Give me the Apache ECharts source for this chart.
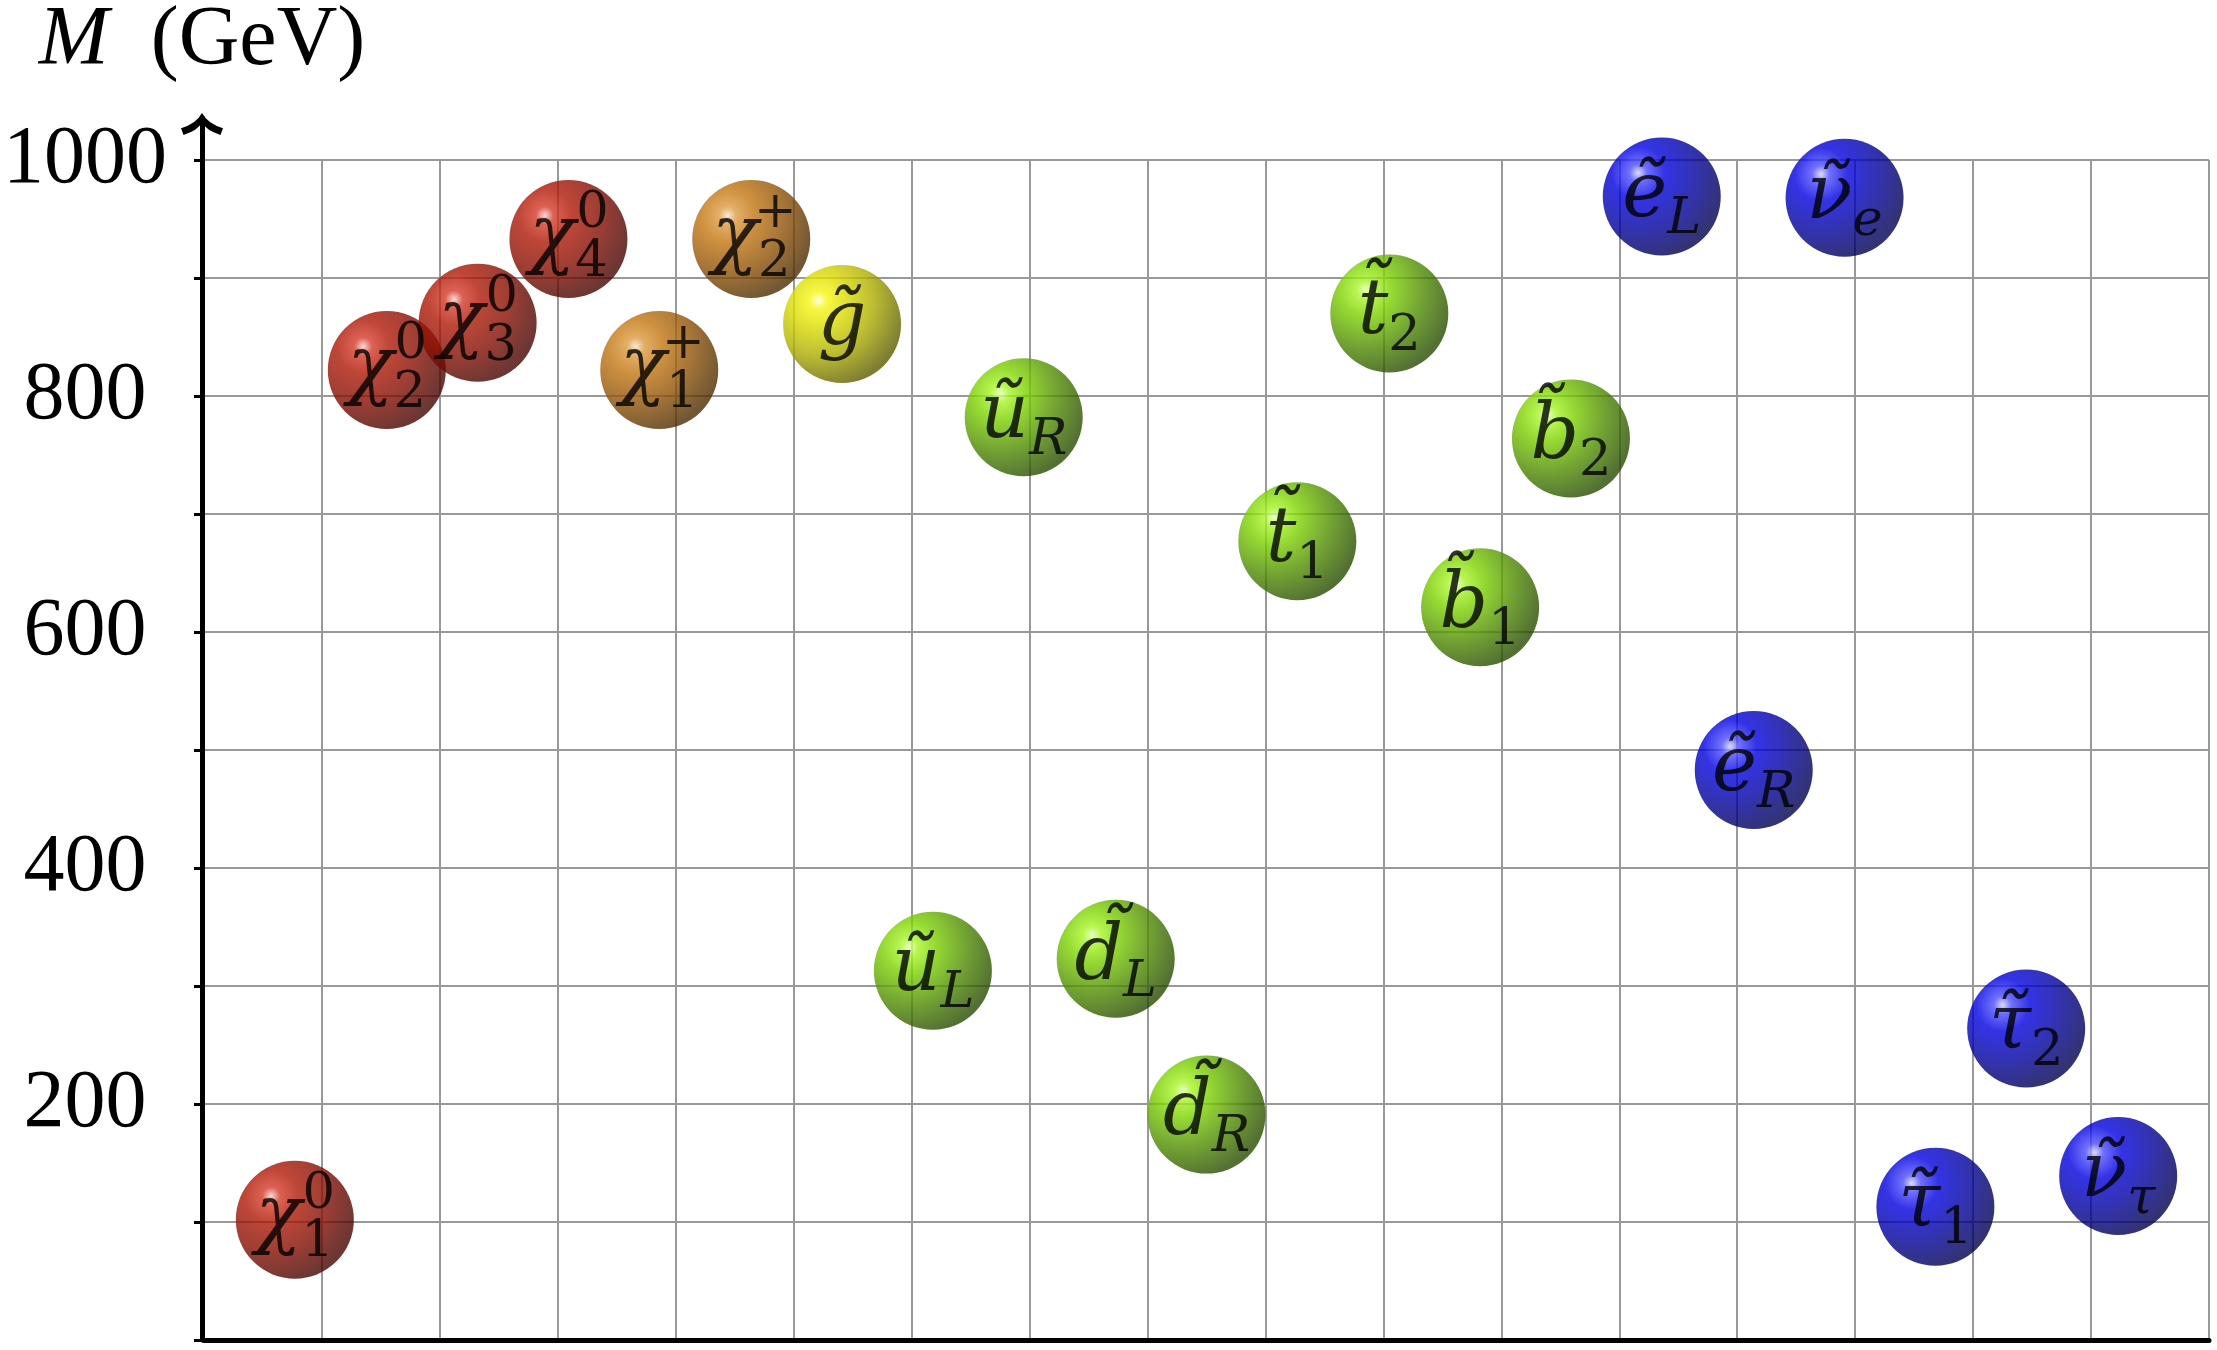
<!DOCTYPE html>
<html><head><meta charset="utf-8">
<script src="https://cdn.jsdelivr.net/npm/echarts@6/dist/echarts.min.js"></script>
<style>html,body{margin:0;padding:0;background:#fff}#c{width:2217px;height:1350px}</style>
</head><body><div id="c"></div>
<script>
// ---- data ----
const particleLetters = ['χ','χ','χ','χ','χ','χ','g\u0303','ũ','ũ','d\u0303','d\u0303','t\u0303','t\u0303','b\u0303','b\u0303','ẽ','ẽ','ν\u0303','τ\u0303','τ\u0303','ν\u0303'];
const particleSubscripts = ['1','2','3','4','1','2','','L','R','L','R','1','2','1','2','L','R','e','1','2','τ'];
const particleSuperscripts = ['0','0','0','0','+','+','','','','','','','','','','','','','','',''];
const particleGroups = ['neutralino','neutralino','neutralino','neutralino','chargino','chargino','gluino','squark','squark','squark','squark','squark','squark','squark','squark','slepton','slepton','slepton','slepton','slepton','slepton'];
const slotPositions = [0.77,1.55,2.32,3.09,3.86,4.64,5.41,6.18,6.95,7.73,8.5,9.27,10.05,10.82,11.59,12.36,13.14,13.91,14.68,15.45,16.23];
const massesGeV = [102,822,862,933,822,933,861,313,782,323,191,677,870,621,764,969,483,968,113,264,139];
const yTickLabels = [200,400,600,800,1000];

// ---- styles ----
const FONT = '"Liberation Serif","DejaVu Serif",serif';
const MFONT = '"DejaVu Serif",serif';
const ballPalette = {
  neutralino: ['#f4d0cc','#d43a28','#ae1806','#860e02','#460400'],
  chargino:   ['#f8e2c8','#dc9a40','#c27610','#925408','#4e2c00'],
  gluino:     ['#ffffd0','#f6f614','#dcdc00','#acac00','#5e5e00'],
  squark:     ['#e4ffb4','#a8f428','#7cd000','#529000','#284c00'],
  slepton:    ['#d4d4ff','#4c4cff','#0000e0','#0000a0','#000050']
};
function ballGradient(group){
  const c = ballPalette[group];
  return {type:'radial', x:0.3, y:0.3, r:0.75, colorStops:[
    {offset:0, color:c[0]},{offset:0.1, color:c[1]},{offset:0.3, color:c[2]},
    {offset:0.62, color:c[3]},{offset:1, color:c[4]}]};
}
const ballData = slotPositions.map((x,i)=>({value:[x, massesGeV[i]], itemStyle:{color:ballGradient(particleGroups[i])}}));
const supData = slotPositions.map((x,i)=>[x, massesGeV[i]]);

const chart = echarts.init(document.getElementById('c'), null, {renderer:'canvas'});
const gridLine = {show:true, lineStyle:{color:'#999999', width:2}};
chart.setOption({
  animation:false,
  backgroundColor:'#fff',
  grid:[
    {left:202, right:8, top:160, bottom:10},
    {left:202, right:8, top:118, bottom:10}
  ],
  xAxis:[
    {gridIndex:0, type:'value', min:0, max:17, interval:1, z:1,
     axisLine:{show:true, onZero:false, lineStyle:{color:'#000', width:5}},
     axisTick:{show:false}, axisLabel:{show:false}, splitLine:gridLine},
    {gridIndex:1, type:'value', min:0, max:1, show:false}
  ],
  yAxis:[
    {gridIndex:0, type:'value', min:0, max:1000, interval:100,
     axisLine:{show:false},
     axisTick:{show:true, length:10, lineStyle:{color:'#000', width:3}},
     axisLabel:{show:true, margin:119, align:'center', color:'#000', fontFamily:FONT, fontSize:82,
       formatter:v=> yTickLabels.includes(v) ? String(v) : ''},
     splitLine:gridLine},
    {gridIndex:1, type:'value', min:0, max:1, z:1,
     axisLine:{show:true, onZero:false, lineStyle:{color:'#000', width:5},
       symbol:['none','path://M50 0 Q36 26 0 36 L6 52 Q40 42 50 22 Q60 42 94 52 L100 36 Q64 26 50 0 Z'],
       symbolSize:[42,22], symbolOffset:[0,-6]},
     axisTick:{show:false}, axisLabel:{show:false}, splitLine:{show:false},
     name:'{i|M}  (GeV)', nameLocation:'end', nameGap:76,
     nameTextStyle:{align:'center', verticalAlign:'middle', color:'#000', fontFamily:FONT, fontSize:84,
       rich:{i:{fontStyle:'italic', fontFamily:FONT, fontSize:84, color:'#000'}}}}
  ],
  series:[
    {type:'scatter', xAxisIndex:0, yAxisIndex:0, symbol:'circle', symbolSize:118, silent:true,
     emphasis:{disabled:true}, data:ballData,
     label:{show:true, position:'inside', offset:[0,0], color:'#000',
       formatter:p=>{
         const i=p.dataIndex, sub=particleSubscripts[i];
         if(!sub) return '{m|'+particleLetters[i]+'}';
         const isItalic = /[A-Za-zτ]/.test(sub);
         return '{m|'+particleLetters[i]+'}{'+(isItalic?'si':'s')+'|'+sub+'}';
       },
       rich:{
         m:{fontFamily:MFONT, fontStyle:'italic', fontSize:76, lineHeight:98, color:'#000'},
         s:{fontFamily:MFONT, fontSize:51, lineHeight:50, verticalAlign:'bottom', color:'#000'},
         si:{fontFamily:MFONT, fontStyle:'italic', fontSize:51, lineHeight:50, verticalAlign:'bottom', color:'#000'}
       }}},
    {type:'scatter', xAxisIndex:0, yAxisIndex:0, symbol:'circle', symbolSize:1, silent:true,
     itemStyle:{color:'rgba(0,0,0,0)'}, emphasis:{disabled:true}, data:supData, z:3,
     label:{show:true, position:'inside', offset:[24,-25], color:'#000',
       formatter:p=> particleSuperscripts[p.dataIndex] ? '{p|'+particleSuperscripts[p.dataIndex]+'}' : '',
       rich:{p:{fontFamily:MFONT, fontSize:51, color:'#000'}}}}
  ]
});
</script></body></html>
